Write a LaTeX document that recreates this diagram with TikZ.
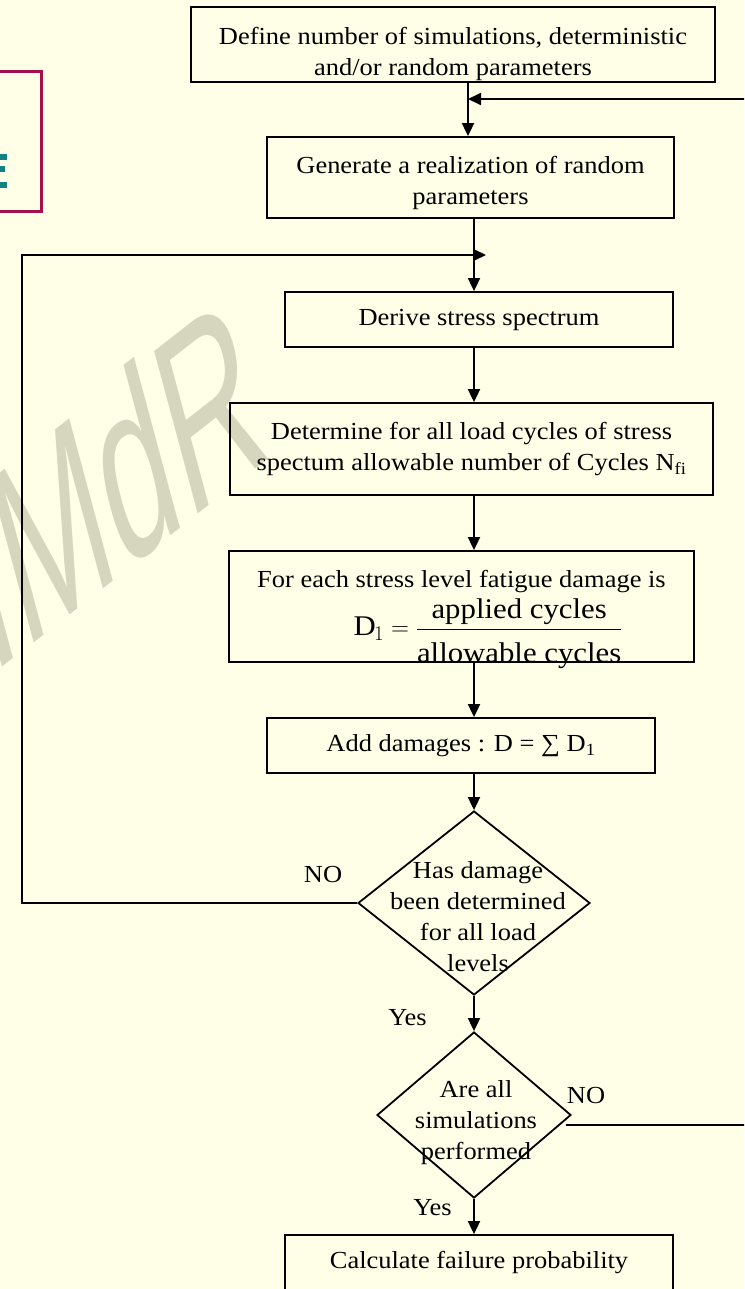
\documentclass[tikz,border=0pt]{standalone}
\usepackage{amsmath}
\usepackage{fontspec}
\setmainfont{Liberation Serif}[FakeStretch=1.08]
\newfontfamily\wmfont{Liberation Sans}
\usetikzlibrary{arrows.meta,positioning,shapes.geometric}

\definecolor{paper}{RGB}{255,255,232}
\definecolor{wmgray}{RGB}{214,214,190}
\definecolor{framered}{RGB}{165,15,75}
\definecolor{tealbar}{RGB}{20,130,130}

\begin{document}
\begin{tikzpicture}[x=1pt,y=-1pt,
    box/.style={draw,line width=1.8pt,inner sep=0pt,align=center},
    txt/.style={inner sep=0pt,align=center},
    dec/.style={diamond,draw,line width=1.8pt,inner sep=0pt},
    arr/.style={line width=1.8pt,-{Triangle[length=13pt,width=12pt]}},
    font=\fontsize{24.5}{31}\selectfont]

\useasboundingbox (0,0) rectangle (744,1289);
\fill[paper] (0,0) rectangle (744,1289);
\clip (0,0) rectangle (744,1289);

% watermark and edge of the neighbouring panel
\node[wmgray,font=\wmfont\fontsize{150}{150}\selectfont,rotate=38,xslant=0.424,yscale=1.5,anchor=base west,inner sep=0pt] (wm) at (-9,676) {IMdR};
\draw[framered,line width=3pt] (-20,72) rectangle (41,212);
\foreach \y/\l in {157/7,169/5,185/7}
  \fill[tealbar] (-5,\y-3) rectangle (\l,\y+3);

\coordinate (ax) at (474,0);
\coordinate (axtop) at (468,0);
\coordinate (loopL) at (22,255);
\coordinate (loopIn) at (486,255);
\coordinate (retB) at (770,1125);
\coordinate (retT) at (770,99);

\node[box,minimum width=524pt,minimum height=75pt] (define) at (453,44.5) {};
\node[txt] (defineT) at (453,54) {Define number of simulations, deterministic\\and/or random parameters};
\node[box,minimum width=407pt,minimum height=81pt] (gen) at (470.5,177.5) {};
\node[txt] (genT) at (470.5,182.5) {Generate a realization of random\\parameters};
\node[box,minimum width=388pt,minimum height=55pt] (derive) at (479,319.5) {Derive stress spectrum};
\node[box,minimum width=483pt,minimum height=92pt] (allow) at (471.5,449) {Determine for all load cycles of stress\\spectum allowable number of Cycles N\textsubscript{fi}};
\node[box,minimum width=465pt,minimum height=111pt] (dmg) at (461.5,606.5) {};
\node[txt,anchor=base] (dmgT) at (461.5,587) {For each stress level fatigue damage is};
\node[txt,font=\fontsize{28.5}{34}\selectfont] (dmgF) at (488,634) {$\mathrm{D}_1 = \dfrac{\text{applied cycles}}{\rule{0pt}{30pt}\text{allowable cycles}}$};
\node[box,minimum width=388pt,minimum height=55pt] (add) at (461,745.5) {Add damages : D = ∑ D\textsubscript{1}};
\node[dec,minimum width=232pt,minimum height=184pt] (chk) at (474,903) {};
\node[txt] (chkT) at (478,917) {Has damage\\been determined\\for all load\\levels};
\node[dec,minimum width=194pt,minimum height=166pt] (sim) at (474,1115) {};
\node[txt] (simT) at (476,1122.5) {Are all\\simulations\\performed};
\node[box,minimum width=388pt,minimum height=56pt] (fail) at (479,1263) {Calculate failure probability};

\node[txt,anchor=base] (no1) at (323,882) {NO};
\node[txt,anchor=base] (yes1) at (407.5,1025) {Yes};
\node[txt,anchor=base] (no2) at (586,1103) {NO};
\node[txt,anchor=base] (yes2) at (432.5,1215) {Yes};

\draw[arr] (define.south -| axtop) -- (gen.north -| axtop);
\draw[arr] (gen.south -| ax) -- (derive.north -| ax);
\draw[arr] (derive.south -| ax) -- (allow.north -| ax);
\draw[arr] (allow.south -| ax) -- (dmg.north -| ax);
\draw[arr] (dmg.south -| ax) -- (add.north -| ax);
\draw[arr] (add.south -| ax) -- (chk.north);
\draw[arr] (chk.south) -- (sim.north);
\draw[arr] (sim.south) -- (fail.north -| sim.south);
\draw[arr] (chk.west) -- (loopL |- chk.west) -- (loopL) -- (loopIn);
\draw[arr] ([shift={(-6pt,-10pt)}]sim.east) -- (retB) -- (retT) -- (retT -| axtop);
\end{tikzpicture}
\end{document}
